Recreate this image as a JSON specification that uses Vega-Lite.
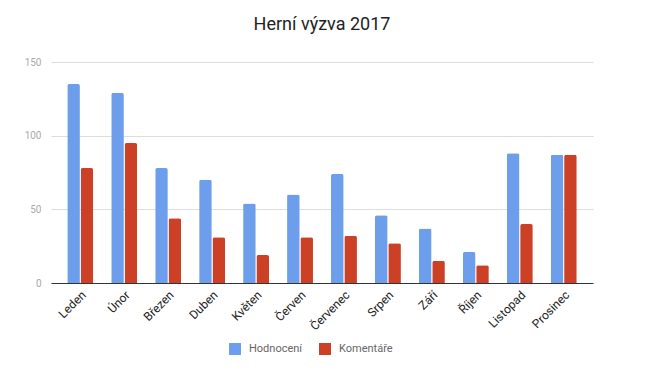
{
  "$schema": "https://vega.github.io/schema/vega-lite/v6.json",
  "width": 542,
  "height": 221,
  "autosize": {"type": "none"},
  "padding": {"left": 51, "top": 62, "right": 54, "bottom": 105},
  "background": "white",
  "title": {"text": "Herní výzva 2017", "font": "Roboto", "fontSize": 18, "fontWeight": "normal", "color": "#222222", "anchor": "middle", "offset": 23},
  "data": {"values": [
    {"mesic": "Leden", "serie": "Hodnocení", "hodnota": 135},
    {"mesic": "Leden", "serie": "Komentáře", "hodnota": 78},
    {"mesic": "Únor", "serie": "Hodnocení", "hodnota": 129},
    {"mesic": "Únor", "serie": "Komentáře", "hodnota": 95},
    {"mesic": "Březen", "serie": "Hodnocení", "hodnota": 78},
    {"mesic": "Březen", "serie": "Komentáře", "hodnota": 44},
    {"mesic": "Duben", "serie": "Hodnocení", "hodnota": 70},
    {"mesic": "Duben", "serie": "Komentáře", "hodnota": 31},
    {"mesic": "Květen", "serie": "Hodnocení", "hodnota": 54},
    {"mesic": "Květen", "serie": "Komentáře", "hodnota": 19},
    {"mesic": "Červen", "serie": "Hodnocení", "hodnota": 60},
    {"mesic": "Červen", "serie": "Komentáře", "hodnota": 31},
    {"mesic": "Červenec", "serie": "Hodnocení", "hodnota": 74},
    {"mesic": "Červenec", "serie": "Komentáře", "hodnota": 32},
    {"mesic": "Srpen", "serie": "Hodnocení", "hodnota": 46},
    {"mesic": "Srpen", "serie": "Komentáře", "hodnota": 27},
    {"mesic": "Září", "serie": "Hodnocení", "hodnota": 37},
    {"mesic": "Září", "serie": "Komentáře", "hodnota": 15},
    {"mesic": "Říjen", "serie": "Hodnocení", "hodnota": 21},
    {"mesic": "Říjen", "serie": "Komentáře", "hodnota": 12},
    {"mesic": "Listopad", "serie": "Hodnocení", "hodnota": 88},
    {"mesic": "Listopad", "serie": "Komentáře", "hodnota": 40},
    {"mesic": "Prosinec", "serie": "Hodnocení", "hodnota": 87},
    {"mesic": "Prosinec", "serie": "Komentáře", "hodnota": 87}
  ]},
  "mark": {"type": "bar", "cornerRadiusTopLeft": 2, "cornerRadiusTopRight": 2},
  "encoding": {
    "x": {
      "field": "mesic", "type": "nominal", "sort": null, "title": null,
      "scale": {"paddingInner": 0.41, "paddingOuter": 0.37},
      "axis": {"labelAngle": -45, "labelFont": "Roboto", "labelFontSize": 12, "labelColor": "#222222", "ticks": false, "domainColor": "#333333", "domainWidth": 1, "labelPadding": 6}
    },
    "xOffset": {"field": "serie", "type": "nominal", "scale": {"paddingInner": 0.05}},
    "y": {
      "field": "hodnota", "type": "quantitative", "title": null,
      "scale": {"domain": [0, 150]},
      "axis": {"values": [0, 50, 100, 150], "domain": false, "ticks": false, "labelFont": "Roboto", "labelFontSize": 10, "labelColor": "#aaaaaa", "labelPadding": 10, "gridColor": "#dddddd", "gridWidth": 1}
    },
    "color": {
      "field": "serie", "type": "nominal", "title": null,
      "scale": {"domain": ["Hodnocení", "Komentáře"], "range": ["#6d9eeb", "#cc4125"]},
      "legend": {"orient": "none", "legendX": 178, "legendY": 281, "direction": "horizontal", "symbolType": "square", "symbolSize": 144, "symbolStrokeWidth": 0, "labelFont": "Roboto", "labelFontSize": 11, "labelColor": "#666666", "columnPadding": 16, "labelOffset": 8}
    }
  },
  "config": {"view": {"stroke": null}}
}
